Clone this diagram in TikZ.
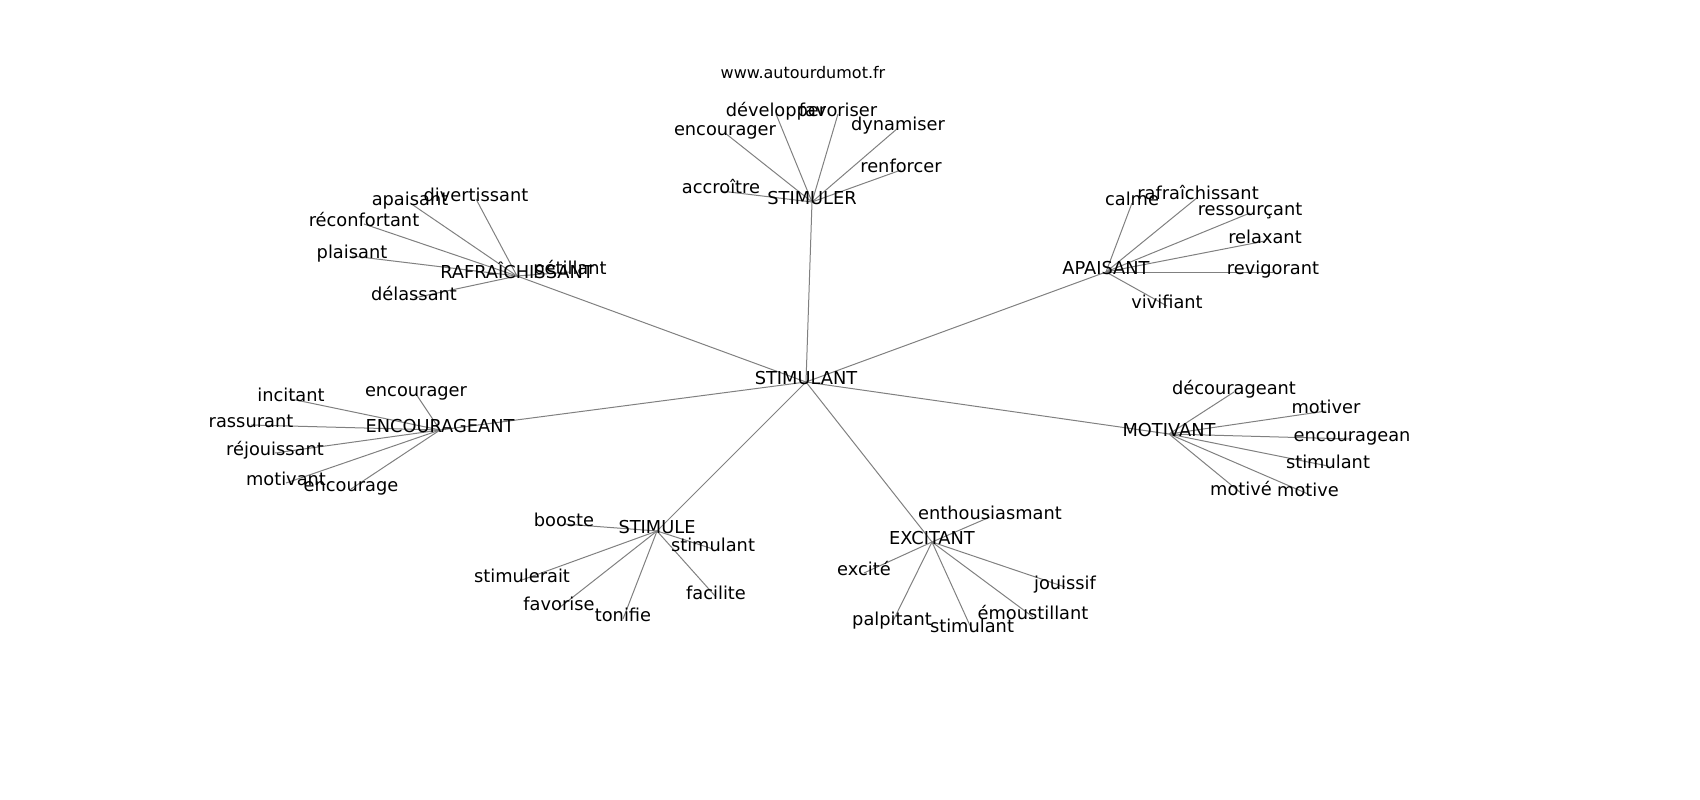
\documentclass[tikz,border=0pt]{standalone}
\usepackage{fontspec}
\setmainfont{DejaVu Sans}
\usetikzlibrary{
  backgrounds,  % Layer "background" for the links
}
\newcommand{\wsize}{\fontsize{17.8}{20}\selectfont}
\tikzset{
  word/.style={
    inner sep=0pt,
    text height=0.76em,
    text depth=0.24em,
    font=\wsize
  },
  site/.style={
    inner sep=0pt,
    font=\fontsize{16}{18}\selectfont
  },
  link/.style={
    draw=gray,
    line width=1pt
  },
  map/.style={
    x=1pt,
    y=-1pt,
    every node/.style={word}
  }
}
\begin{document}
\begin{tikzpicture}[map]
\useasboundingbox (0,0) rectangle (1700,800);
\node[site] (site) at (803,76) {www.autourdumot.fr};
% centre
\node (stimulant) at (806,382) {STIMULANT};
% STIMULER
\node (stimuler) at (812,202) {STIMULER};
\node (developper) at (776,114) {développer};
\node (favoriser) at (838,114) {favoriser};
\node (encourager1) at (725,133) {encourager};
\node (dynamiser) at (898,128) {dynamiser};
\node (renforcer) at (901,170) {renforcer};
\node (accroitre) at (721,191) {accroître};
% RAFRAICHISSANT
\node (rafraichissant) at (517,276) {RAFRAÎCHISSANT};
\node (apaisant2) at (410,203) {apaisant};
\node (divertissant) at (476,199) {divertissant};
\node (reconfortant) at (364,224) {réconfortant};
\node (plaisant) at (352,256) {plaisant};
\node (petillant) at (570,272) {pétillant};
\node (delassant) at (414,298) {délassant};
% APAISANT
\node (apaisant) at (1106,272) {APAISANT};
\node (calme) at (1132,203) {calme};
\node (rafraichissant2) at (1198,197) {rafraîchissant};
\node (ressourcant) at (1250,213) {ressourçant};
\node (relaxant) at (1265,241) {relaxant};
\node (revigorant) at (1273,272) {revigorant};
\node (vivifiant) at (1167,306) {vivifiant};
% ENCOURAGEANT
\node (encourageant) at (440,430) {ENCOURAGEANT};
\node (encourager2) at (416,394) {encourager};
\node (incitant) at (291,399) {incitant};
\node (rassurant) at (251,425) {rassurant};
\node (rejouissant) at (275,453) {réjouissant};
\node (motivant2) at (286,483) {motivant};
\node (encourage) at (351,489) {encourage};
% MOTIVANT
\node (motivant) at (1169,434) {MOTIVANT};
\node (decourageant) at (1234,392) {décourageant};
\node (motiver) at (1326,411) {motiver};
\node (encouragean) at (1352,439) {encouragean};
\node (stimulant2) at (1328,466) {stimulant};
\node (motive1) at (1241,493) {motivé};
\node (motive2) at (1308,494) {motive};
% STIMULE
\node (stimule) at (657,531) {STIMULE};
\node (booste) at (564,524) {booste};
\node (stimulant3) at (713,549) {stimulant};
\node (stimulerait) at (522,580) {stimulerait};
\node (favorise) at (559,608) {favorise};
\node (tonifie) at (623,619) {tonifie};
\node (facilite) at (716,597) {facilite};
% EXCITANT
\node (excitant) at (932,542) {EXCITANT};
\node (enthousiasmant) at (990,517) {enthousiasmant};
\node (excite) at (864,573) {excité};
\node (jouissif) at (1065,587) {jouissif};
\node (palpitant) at (892,623) {palpitant};
\node (stimulant4) at (972,630) {stimulant};
\node (emoustillant) at (1033,617) {émoustillant};

\begin{scope}[on background layer]
\path[link]
  (stimulant.center) edge (stimuler.center) edge (rafraichissant.center)
    edge (apaisant.center) edge (encourageant.center) edge (motivant.center)
    edge (stimule.center) edge (excitant.center)
  (stimuler.center) edge (developper.center) edge (favoriser.center)
    edge (encourager1.center) edge (dynamiser.center) edge (renforcer.center)
    edge (accroitre.center)
  (rafraichissant.center) edge (apaisant2.center) edge (divertissant.center)
    edge (reconfortant.center) edge (plaisant.center) edge (petillant.center)
    edge (delassant.center)
  (apaisant.center) edge (calme.center) edge (rafraichissant2.center)
    edge (ressourcant.center) edge (relaxant.center) edge (revigorant.center)
    edge (vivifiant.center)
  (encourageant.center) edge (encourager2.center) edge (incitant.center)
    edge (rassurant.center) edge (rejouissant.center) edge (motivant2.center)
    edge (encourage.center)
  (motivant.center) edge (decourageant.center) edge (motiver.center)
    edge (encouragean.center) edge (stimulant2.center) edge (motive1.center)
    edge (motive2.center)
  (stimule.center) edge (booste.center) edge (stimulant3.center)
    edge (stimulerait.center) edge (favorise.center) edge (tonifie.center)
    edge (facilite.center)
  (excitant.center) edge (enthousiasmant.center) edge (excite.center)
    edge (jouissif.center) edge (palpitant.center) edge (stimulant4.center)
    edge (emoustillant.center);
\end{scope}
\end{tikzpicture}
\end{document}
